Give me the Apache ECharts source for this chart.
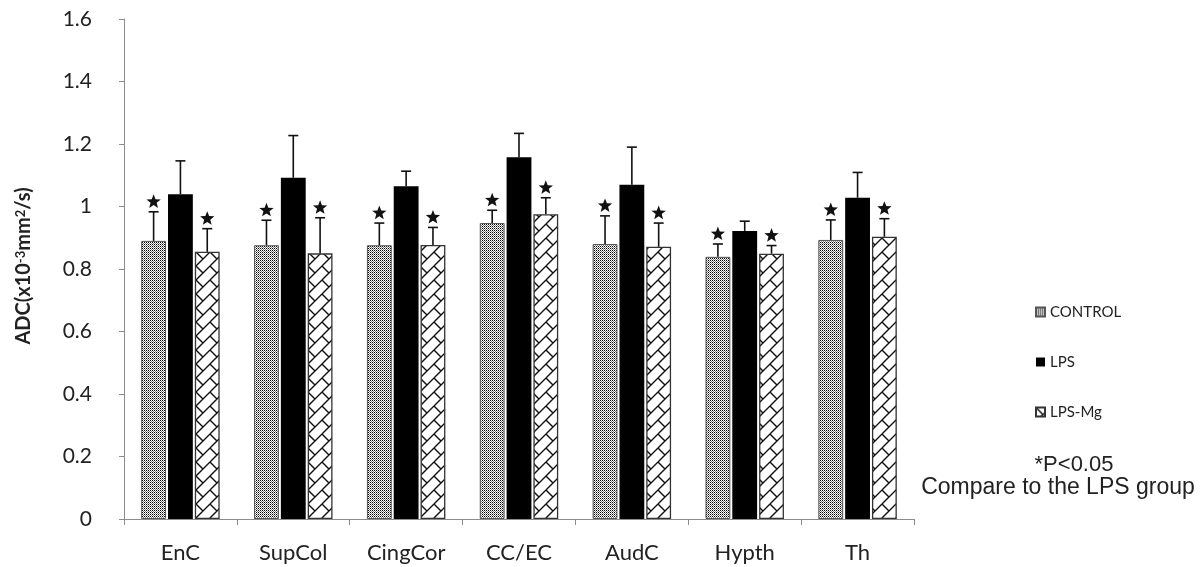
<!DOCTYPE html>
<html>
<head>
<meta charset="utf-8">
<script src="https://cdn.jsdelivr.net/npm/echarts@6/dist/echarts.min.js"></script>
<style>
html,body{margin:0;padding:0;background:#fff;}
#chart{width:1203px;height:567px;}
</style>
</head>
<body>
<div id="chart"></div>
<script>
// ---- data ----
const categories = ['EnC', 'SupCol', 'CingCor', 'CC/EC', 'AudC', 'Hypth', 'Th'];
const seriesNames = ['CONTROL', 'LPS', 'LPS-Mg'];
const controlValues = [0.890, 0.876, 0.876, 0.947, 0.880, 0.839, 0.893];
const controlErrors = [0.093, 0.080, 0.071, 0.041, 0.090, 0.041, 0.064];
const lpsValues     = [1.039, 1.092, 1.065, 1.158, 1.070, 0.922, 1.028];
const lpsErrors     = [0.107, 0.135, 0.048, 0.076, 0.120, 0.031, 0.081];
const lpsMgValues   = [0.855, 0.850, 0.877, 0.975, 0.871, 0.849, 0.903];
const lpsMgErrors   = [0.074, 0.114, 0.056, 0.053, 0.076, 0.026, 0.058];
const significant   = [true, false, true];   // * P<0.05 vs LPS
const yMin = 0, yMax = 1.6, yInterval = 0.2;
const noteLines = ['*P<0.05', 'Compare to the LPS group'];

// ---- patterns ----
function dotPattern() {
  const c = document.createElement('canvas');
  c.width = 2; c.height = 2;
  const g = c.getContext('2d');
  g.fillStyle = '#fff'; g.fillRect(0, 0, 2, 2);
  g.fillStyle = '#000'; g.fillRect(0, 0, 1, 1);
  g.fillStyle = '#808080'; g.fillRect(1, 1, 1, 1);
  return c;
}
function hatchPattern() {
  const P = 14;
  const c = document.createElement('canvas');
  c.width = P; c.height = P;
  const g = c.getContext('2d');
  g.fillStyle = '#fff'; g.fillRect(0, 0, P, P);
  g.strokeStyle = '#111'; g.lineWidth = 1.4;
  for (let i = -1; i <= 1; i++) {
    for (let j = -1; j <= 1; j++) {
      const ox = i * P, oy = j * P;
      g.beginPath();
      g.moveTo(ox + P, oy); g.lineTo(ox, oy + P);
      g.moveTo(ox, oy); g.lineTo(ox + P / 2, oy + P / 2);
      g.stroke();
    }
  }
  return c;
}

const valueSets = [controlValues, lpsValues, lpsMgValues];
const errorSets = [controlErrors, lpsErrors, lpsMgErrors];
const BAR_FRAC = 0.22, GAP_FRAC = 0.08;
const styles = [
  { color: { image: dotPattern(), repeat: 'repeat' }, borderColor: '#555', borderWidth: 1 },
  { color: '#000', borderColor: '#000', borderWidth: 0 },
  { color: { image: hatchPattern(), repeat: 'repeat' }, borderColor: '#333', borderWidth: 1.3 }
];

const series = [];
seriesNames.forEach((name, s) => {
  series.push({
    name: name,
    type: 'bar',
    data: valueSets[s],
    barWidth: (BAR_FRAC * 100) + '%',
    barGap: (GAP_FRAC * 100) + '%',
    itemStyle: styles[s],
    z: 2
  });
});
seriesNames.forEach((name, s) => {
  series.push({
    name: name + ' err',
    type: 'custom',
    z: 3,
    encode: { x: 0, y: 1 },
    data: categories.map((c, i) => [i, valueSets[s][i], errorSets[s][i]]),
    renderItem: function (params, api) {
      const ci = api.value(0), v = api.value(1), e = api.value(2);
      const base = api.coord([ci, v]);
      const top = api.coord([ci, v + e]);
      const band = api.size([1, 0])[0];
      const bw = band * BAR_FRAC, gap = bw * GAP_FRAC;
      const x = base[0] + (s - 1) * (bw + gap);
      const children = [
        { type: 'line', shape: { x1: x, y1: base[1], x2: x, y2: top[1] }, style: { stroke: '#111', lineWidth: 1.6 } },
        { type: 'line', shape: { x1: x - 5, y1: top[1], x2: x + 5, y2: top[1] }, style: { stroke: '#111', lineWidth: 1.6 } }
      ];
      if (significant[s]) {
        const cy = top[1] - 10, R = 7.5, r = 3.2, pts = [];
        for (let k = 0; k < 10; k++) {
          const ang = -Math.PI / 2 + k * Math.PI / 5;
          const rad = k % 2 === 0 ? R : r;
          pts.push([x + rad * Math.cos(ang), cy + rad * Math.sin(ang)]);
        }
        children.push({ type: 'polygon', shape: { points: pts }, style: { fill: '#111' } });
      }
      return { type: 'group', children: children };
    }
  });
});

const chart = echarts.init(document.getElementById('chart'));
chart.setOption({
  backgroundColor: '#fff',
  animation: false,
  grid: { left: 124, right: 289, top: 19, bottom: 48 },
  legend: {
    data: seriesNames,
    orient: 'vertical',
    left: 1030,
    top: 299,
    itemWidth: 9,
    itemHeight: 9,
    itemGap: 34,
    icon: 'rect',
    textStyle: { fontFamily: 'Lato', fontSize: 15, color: '#222', lineHeight: 16 }
  },
  xAxis: {
    type: 'category',
    data: categories,
    axisLine: { lineStyle: { color: '#8c8c8c', width: 1 } },
    axisTick: { show: true, alignWithLabel: false, length: 6, lineStyle: { color: '#8c8c8c' } },
    axisLabel: { fontFamily: 'Lato', fontSize: 22, color: '#222', margin: 23 }
  },
  yAxis: {
    type: 'value',
    min: yMin, max: yMax, interval: yInterval,
    splitLine: { show: false },
    axisLine: { show: true, lineStyle: { color: '#8c8c8c', width: 1 } },
    axisTick: { show: true, length: 5, lineStyle: { color: '#8c8c8c' } },
    axisLabel: { fontFamily: 'Lato', fontSize: 21, color: '#222', margin: 32 }
  },
  graphic: [
    {
      type: 'text',
      x: 24, y: 266,
      rotation: Math.PI / 2,
      style: {
        text: '{a|ADC(x10}{s|-3}{a|mm}{s|2}{a|/s)}',
        align: 'center', verticalAlign: 'middle',
        rich: {
          a: { fontFamily: 'Lato', fontWeight: 'bold', fontSize: 20, fill: '#222', verticalAlign: 'bottom' },
          s: { fontFamily: 'Lato', fontWeight: 'bold', fontSize: 13, fill: '#222', verticalAlign: 'top' }
        }
      }
    },
    {
      type: 'text', x: 1074, y: 465,
      style: { text: noteLines[0], align: 'center', verticalAlign: 'middle', fontFamily: 'Liberation Sans', fontSize: 22, fill: '#222' }
    },
    {
      type: 'text', x: 1058, y: 488,
      style: { text: noteLines[1], align: 'center', verticalAlign: 'middle', fontFamily: 'Liberation Sans', fontSize: 23, fill: '#222' }
    }
  ],
  series: series
});
</script>
</body>
</html>
